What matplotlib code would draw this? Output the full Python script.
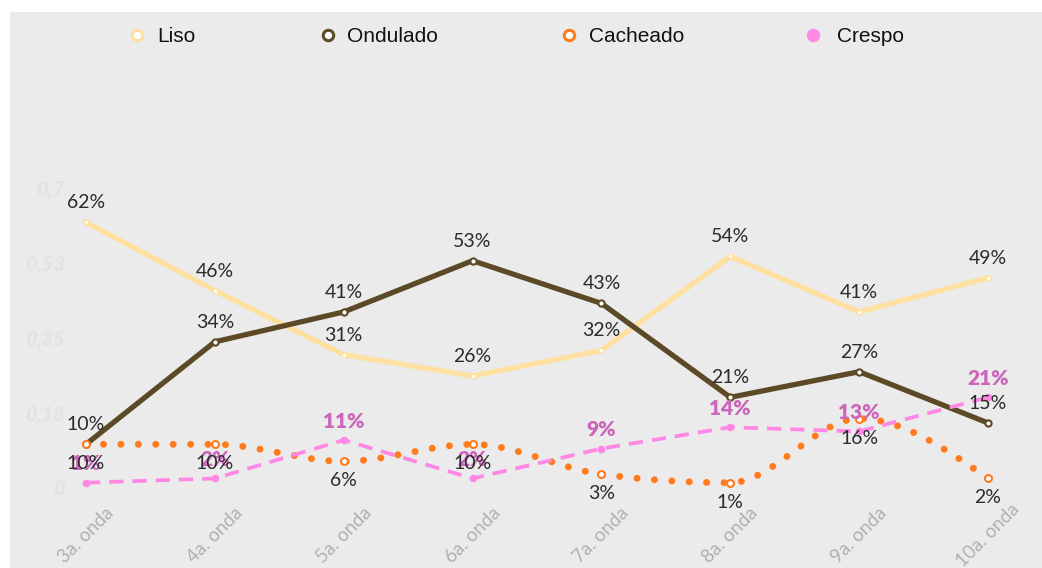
import numpy as np
import matplotlib.pyplot as plt
from matplotlib.patches import Rectangle

# data
ondas = ["3a. onda", "4a. onda", "5a. onda", "6a. onda", "7a. onda", "8a. onda", "9a. onda", "10a. onda"]
liso = [0.62, 0.46, 0.31, 0.26, 0.32, 0.54, 0.41, 0.49]
ondulado = [0.10, 0.34, 0.41, 0.53, 0.43, 0.21, 0.27, 0.15]
cacheado = [0.10, 0.10, 0.06, 0.10, 0.03, 0.01, 0.16, 0.02]
crespo = [0.01, 0.02, 0.11, 0.02, 0.09, 0.14, 0.13, 0.21]
yticks = [0, 0.175, 0.35, 0.525, 0.7]
ytick_labels = ["0", "0,18", "0,35", "0,53", "0,7"]

c_liso = "#ffe0a0"
c_ond = "#5c4a26"
c_cach = "#ff7b1c"
c_cresp = "#ff88e4"
c_cresp_txt = "#cc66bb"
c_txt = "#2b2b2b"


def monotone(x, y, n=30):
    # d3 curveMonotoneX style smoothing for drawing
    x = np.asarray(x, float)
    y = np.asarray(y, float)
    h = np.diff(x)
    s = np.diff(y) / h
    m = np.zeros(len(x))
    for i in range(1, len(x) - 1):
        if s[i - 1] * s[i] <= 0:
            m[i] = 0
        else:
            p = (s[i - 1] * h[i] + s[i] * h[i - 1]) / (h[i - 1] + h[i])
            m[i] = (np.sign(s[i - 1]) + np.sign(s[i])) * min(abs(s[i - 1]), abs(s[i]), 0.5 * abs(p))
    m[0] = (3 * s[0] - m[1]) / 2 if len(x) > 2 else s[0]
    m[-1] = (3 * s[-1] - m[-2]) / 2
    xs, ys = [], []
    for i in range(len(x) - 1):
        t = np.linspace(0, 1, n, endpoint=False)
        h00 = 2 * t**3 - 3 * t**2 + 1
        h10 = t**3 - 2 * t**2 + t
        h01 = -2 * t**3 + 3 * t**2
        h11 = t**3 - t**2
        xs.extend(x[i] + t * h[i])
        ys.extend(h00 * y[i] + h10 * h[i] * m[i] + h01 * y[i + 1] + h11 * h[i] * m[i + 1])
    xs.append(x[-1])
    ys.append(y[-1])
    return np.array(xs), np.array(ys)


W, H = 1042, 568
fig = plt.figure(figsize=(W / 100, H / 100), dpi=100, facecolor="white")

bg = fig.add_axes([0, 0, 1, 1], zorder=-1)
bg.set_xlim(0, W)
bg.set_ylim(H, 0)
bg.axis("off")
bg.add_patch(Rectangle((10, 12), W - 10, H - 12, color="#ebebeb", lw=0))

# main axes (pixel layout)
L, R, T, B = 70, 1030, 80, 500
ax = fig.add_axes([L / W, 1 - B / H, (R - L) / W, (B - T) / H])
ax.patch.set_alpha(0)
x0, dx = 86, 128.86
y0, dy = 487, 427
ax.set_xlim((L - x0) / dx, (R - x0) / dx)
ax.set_ylim((y0 - B) / dy, (y0 - T) / dy)
for sp in ax.spines.values():
    sp.set_visible(False)

x = np.arange(len(ondas))

ax.plot(x, liso, color=c_liso, lw=3.8, zorder=3)
ax.plot(x, liso, "o", ms=3.5, mfc="white", mec=c_liso, mew=1, zorder=4)
ax.plot(x, ondulado, color=c_ond, lw=3.8, zorder=3)
ax.plot(x, ondulado, "o", ms=4.5, mfc="white", mec=c_ond, mew=1.5, zorder=4)
cx, cy = monotone(x, cacheado)
ax.plot(cx, cy, color=c_cach, lw=5, ls=(0, (0.01, 2.5)), dash_capstyle="round", zorder=3)
ax.plot(x, cacheado, "o", ms=5, mfc="white", mec=c_cach, mew=1.5, zorder=4)
ax.plot(x, crespo, color=c_cresp, lw=2.7, ls=(0, (3.8, 2.4)), zorder=3)
ax.plot(x, crespo, "o", ms=4.5, color=c_cresp, zorder=4)

lab_font = dict(family="Lato", fontsize=14, color=c_txt, ha="center", va="center", zorder=6)
for i in x:
    ax.annotate(f"{round(crespo[i] * 100)}%", (i, crespo[i]), xytext=(0, 13.5), textcoords="offset points",
                family="Lato", fontsize=15, fontweight="heavy", color=c_cresp_txt, ha="center", va="center", zorder=5)
    ax.annotate(f"{round(liso[i] * 100)}%", (i, liso[i]), xytext=(0, 14), textcoords="offset points", **lab_font)
    ax.annotate(f"{round(ondulado[i] * 100)}%", (i, ondulado[i]), xytext=(0, 14), textcoords="offset points", **lab_font)
    ax.annotate(f"{round(cacheado[i] * 100)}%", (i, cacheado[i]), xytext=(0, -14), textcoords="offset points", **lab_font)

ax.set_yticks(yticks)
ax.set_yticklabels(ytick_labels, family="Lato", fontsize=14.5, fontweight="heavy", style="italic", color="#e3e3e3")
ax.tick_params(axis="y", length=0, pad=4)
ax.set_xticks([])
for i, lab in enumerate(ondas):
    ax.text(i, (B - 535) / (B - T), lab, transform=ax.get_xaxis_transform(), rotation=45,
            ha="center", va="center", rotation_mode="anchor", family="Lato", fontsize=13.5,
            color="#b0b0b0")

# legend
leg = [("Liso", 137, 157, c_liso, "white"),
       ("Ondulado", 328, 347, c_ond, "white"),
       ("Cacheado", 569, 589, c_cach, "white"),
       ("Crespo", 813, 837, c_cresp, c_cresp)]
for name, mx, tx, ec, fc in leg:
    bg.plot(mx, 35, "o", ms=7.5, mfc=fc, mec=ec, mew=2.2, ls="none")
    bg.text(tx, 36, name, family="Liberation Sans", fontsize=15, color="#111111", va="center", ha="left")

fig.savefig("out.png", dpi=100, facecolor="white")
